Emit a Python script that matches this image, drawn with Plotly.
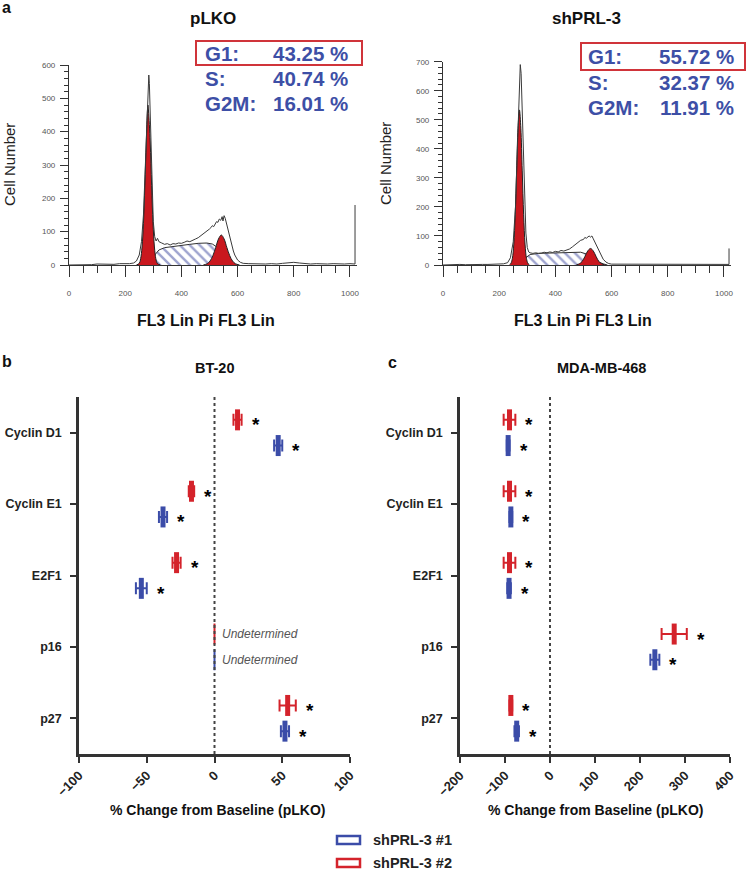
import plotly.graph_objects as go

W, H = 748, 873
FONT = "Liberation Sans, Arial, sans-serif"
RED = "#d4232b"
BLUE = "#3b4ca8"
TXTBLUE = "#3d4fa6"
G1RED = "#c9171e"

# ---------------- Panel a : cell-cycle histograms ----------------
# pLKO raw histogram (FL3 channel, cell count)
plko_raw_x = [0, 20, 40, 60, 80, 100, 120, 140, 160, 180, 200, 215, 230, 240, 250, 258, 265, 270, 275, 279,
              282, 284, 286, 288, 291, 295, 300, 305, 310, 315, 320, 330, 340, 350, 360, 370, 380, 390, 400,
              410, 420, 430, 440, 450, 460, 470, 480, 490, 500, 505, 510, 515, 520, 525, 530, 535, 540, 545,
              548, 552, 556, 560, 565, 570, 575, 580, 585, 590, 600, 610, 620, 640, 660, 680, 700, 720, 740,
              760, 780, 800, 820, 840, 860, 880, 900, 920, 940, 960, 980, 1000, 1010, 1018, 1018]
plko_raw_y = [0, 0, 1, 2, 1, 3, 2, 3, 2, 4, 3, 4, 6, 12, 30, 70, 150, 260, 400, 510,
              560, 570, 545, 480, 370, 230, 130, 85, 72, 80, 70, 66, 62, 64, 60, 64, 63, 66, 65,
              68, 72, 70, 75, 78, 82, 88, 95, 100, 108, 112, 118, 115, 125, 130, 128, 138, 134, 145,
              132, 148, 140, 125, 110, 92, 75, 58, 42, 30, 15, 8, 5, 4, 3, 4, 3, 4, 3,
              5, 6, 8, 6, 4, 3, 4, 3, 3, 4, 3, 3, 4, 3, 3, 180]
plko_g1_x = [240, 250, 255, 260, 265, 270, 275, 279, 281, 283, 289, 294, 299, 304, 309, 314, 325]
plko_g1_y = [0, 5, 19, 54, 125, 239, 369, 462, 480, 462, 369, 239, 125, 54, 19, 5, 0]
plko_s_x = [260, 280, 300, 320, 340, 370, 400, 430, 460, 490, 510, 530, 550, 565, 580, 595]
plko_s_y = [0, 8, 25, 45, 52, 56, 59, 62, 65, 66, 63, 52, 35, 20, 8, 0]
plko_g2_x = [478, 492, 502, 512, 522, 532, 542, 552, 562, 572, 582, 592, 607]
plko_g2_y = [0, 4, 12, 28, 52, 78, 90, 78, 52, 28, 12, 4, 0]
plko_peaks = [282, 552]

# shPRL-3 raw histogram
sh_raw_x = [0, 20, 40, 60, 80, 100, 120, 140, 160, 180, 200, 215, 230, 240, 250, 258, 264, 268, 272, 275,
            278, 281, 285, 290, 295, 300, 305, 310, 320, 330, 340, 350, 360, 370, 380, 390, 400, 410, 420,
            430, 440, 450, 460, 470, 480, 490, 500, 505, 510, 515, 520, 525, 530, 535, 540, 550, 560, 570,
            580, 590, 600, 620, 650, 700, 750, 780, 800, 850, 900, 950, 1000, 1010, 1018, 1018]
sh_raw_y = [0, 1, 1, 2, 1, 2, 3, 2, 2, 3, 3, 4, 8, 25, 80, 200, 380, 520, 640, 690,
            660, 560, 400, 220, 110, 60, 45, 42, 40, 42, 40, 41, 44, 42, 45, 43, 47, 45, 50,
            48, 52, 55, 62, 70, 78, 85, 88, 95, 92, 98, 100, 96, 100, 90, 80, 58, 38, 20,
            10, 5, 3, 3, 2, 3, 3, 4, 3, 2, 3, 2, 3, 2, 2, 57]
sh_g1_x = [237, 242, 247, 252, 257, 262, 267, 272, 277, 282, 287, 292, 297, 302, 307]
sh_g1_y = [1, 6, 23, 72, 173, 324, 471, 534, 471, 324, 173, 72, 23, 6, 1]
sh_s_x = [250, 270, 290, 310, 340, 380, 420, 460, 490, 510, 530, 550, 570, 585]
sh_s_y = [0, 8, 22, 36, 40, 41, 43, 45, 44, 38, 25, 12, 4, 0]
sh_g2_x = [475, 485, 495, 505, 515, 525, 535, 545, 555, 565, 575]
sh_g2_y = [1, 4, 12, 29, 48, 57, 48, 29, 12, 4, 1]
sh_peaks = [276]

phase_labels = ["G1:", "S:", "G2M:"]
plko_pct = ["43.25 %", "40.74 %", "16.01 %"]
sh_pct = ["55.72 %", "32.37 %", "11.91 %"]

# ---------------- Panels b, c : % change from baseline ----------------
genes = ["Cyclin D1", "Cyclin E1", "E2F1", "p16", "p27"]
# BT-20  (None = undetermined)
bt20_sh1 = [47, -38, -54, None, 52]
bt20_sh1_err = [3, 3, 4, 0, 3]
bt20_sh2 = [17, -17, -28, None, 54]
bt20_sh2_err = [3, 2, 3, 0, 6]
# MDA-MB-468
mda_sh1 = [-93, -87, -91, 233, -74]
mda_sh1_err = [3, 3, 4, 10, 5]
mda_sh2 = [-90, -90, -90, 276, -87]
mda_sh2_err = [13, 13, 13, 28, 3]

bt20_ticks = [-100, -50, 0, 50, 100]
mda_ticks = [-200, -100, 0, 100, 200, 300, 400]
series_names = ["shPRL-3 #1", "shPRL-3 #2"]


def P(xp, yp):
    return xp / W, 1 - yp / H


fig = go.Figure()

# --- histograms ---
def add_hist(xa, ya, rx, ry, g1x, g1y, sx, sy, g2x, g2y, peaks, tri_y):
    fig.add_trace(go.Scatter(x=sx, y=sy, xaxis=xa, yaxis=ya, mode="lines", fill="tozeroy",
                             fillcolor="white",
                             fillpattern=dict(shape="\\", fgcolor="#3f4aa0", bgcolor="white",
                                              size=7, solidity=0.35),
                             line=dict(color="#333", width=1), hoverinfo="skip"))
    for gx, gy in ((g1x, g1y), (g2x, g2y)):
        fig.add_trace(go.Scatter(x=gx, y=gy, xaxis=xa, yaxis=ya, mode="lines", fill="tozeroy",
                                 fillcolor=G1RED, line=dict(color="#222", width=1, shape="spline"),
                                 hoverinfo="skip"))
    fig.add_trace(go.Scatter(x=rx, y=ry, xaxis=xa, yaxis=ya, mode="lines",
                             line=dict(color="#3a3a3a", width=1), hoverinfo="skip"))
    fig.add_trace(go.Scatter(x=peaks, y=[tri_y] * len(peaks), xaxis=xa, yaxis=ya, mode="markers",
                             marker=dict(symbol="triangle-up", size=9, color="black"),
                             cliponaxis=False, hoverinfo="skip"))


add_hist("x", "y", plko_raw_x, plko_raw_y, plko_g1_x, plko_g1_y, plko_s_x, plko_s_y,
         plko_g2_x, plko_g2_y, plko_peaks, -19)
add_hist("x2", "y2", sh_raw_x, sh_raw_y, sh_g1_x, sh_g1_y, sh_s_x, sh_s_y,
         sh_g2_x, sh_g2_y, sh_peaks, -23)

# --- dot/error plots ---
OFF = 0.18
annotations = []


def add_effects(xa, ya, vals1, err1, vals2, err2):
    for vals, errs, col, off in ((vals2, err2, RED, -OFF), (vals1, err1, BLUE, OFF)):
        ys = [i + off for i in range(len(genes))]
        fig.add_trace(go.Scatter(
            x=vals, y=ys, xaxis=xa, yaxis=ya, mode="markers",
            marker=dict(symbol="line-ns", size=15, line=dict(width=5, color=col)),
            error_x=dict(type="data", array=errs, visible=True, thickness=2, width=6, color=col),
            hoverinfo="skip"))
        und_y = [y for v, y in zip(vals, ys) if v is None]
        if und_y:
            fig.add_trace(go.Scatter(
                x=[0] * len(und_y), y=und_y, xaxis=xa, yaxis=ya, mode="markers",
                marker=dict(symbol="line-ns", size=15, line=dict(width=2, color=col)),
                hoverinfo="skip"))
        for v, e, y in zip(vals, errs, ys):
            if v is None:
                annotations.append(dict(x=0, y=y, xref=xa, yref=ya, text="Undetermined",
                                        showarrow=False, xanchor="left", xshift=5,
                                        font=dict(family=FONT, size=12, color="#555", style="italic")))
            else:
                annotations.append(dict(x=v + e, y=y, xref=xa, yref=ya, text="*", showarrow=False,
                                        xanchor="center", xshift=14, yshift=-5,
                                        font=dict(family=FONT, size=19, color="black", weight="bold")))


add_effects("x3", "y3", bt20_sh1, bt20_sh1_err, bt20_sh2, bt20_sh2_err)
add_effects("x4", "y4", mda_sh1, mda_sh1_err, mda_sh2, mda_sh2_err)

# ---------------- axes ----------------
hist_x = dict(range=[0, 1025], showline=True, linecolor="#333", linewidth=1.2, ticks="outside",
              ticklen=11, tickwidth=1.2, tickcolor="#333", tickvals=[0, 200, 400, 600, 800, 1000],
              minor=dict(dtick=50, tick0=0, ticks="outside", ticklen=7, tickwidth=1.2, tickcolor="#333"),
              tickfont=dict(family=FONT, size=8, color="#555"), ticklabelstandoff=9,
              showgrid=False, zeroline=False, fixedrange=True, automargin=False)
hist_y = dict(showline=True, linecolor="#333", linewidth=1.2, ticks="outside", ticklen=8,
              tickwidth=1.2, tickcolor="#333", dtick=100,
              minor=dict(dtick=20, ticks="outside", ticklen=4, tickwidth=1, tickcolor="#333"),
              tickfont=dict(family=FONT, size=8, color="#555"), ticklabelstandoff=3,
              showgrid=False, zeroline=False, fixedrange=True, automargin=False)

eff_x = dict(showline=True, linecolor="#333", linewidth=2.5, ticks="outside", ticklen=6, tickwidth=2,
             tickcolor="#333", tickangle=-45,
             tickfont=dict(family=FONT, size=13, color="#222", weight="bold"),
             showgrid=False, zeroline=False, fixedrange=True, automargin=False)
eff_y = dict(range=[4.5, -0.5], tickvals=list(range(len(genes))), ticktext=genes, showline=True,
             linecolor="#333", linewidth=2.5, ticks="outside", ticklen=6, tickwidth=2, tickcolor="#333",
             tickfont=dict(family=FONT, size=12.5, color="#222", weight="bold"), ticklabelstandoff=6,
             showgrid=False, zeroline=False, fixedrange=True, automargin=False)

ya_dom = [1 - 265 / H, 1 - 65 / H]
yb_dom = [1 - 265 / H, 1 - 61.7 / H]
ec_dom = [1 - 754 / H, 1 - 397 / H]

fig.update_layout(
    width=W, height=H, margin=dict(l=0, r=0, t=0, b=0, autoexpand=False),
    paper_bgcolor="white", plot_bgcolor="white", showlegend=False,
    font=dict(family=FONT, color="#222"),
    xaxis=dict(hist_x, domain=[69 / W, 357 / W], anchor="y"),
    yaxis=dict(hist_y, domain=ya_dom, range=[0, 600], anchor="x"),
    xaxis2=dict(hist_x, domain=[443 / W, 731 / W], anchor="y2"),
    yaxis2=dict(hist_y, domain=yb_dom, range=[0, 700], anchor="x2"),
    xaxis3=dict(eff_x, domain=[79 / W, 350 / W], range=[-100, 100], tickvals=bt20_ticks, anchor="y3"),
    yaxis3=dict(eff_y, domain=ec_dom, anchor="x3"),
    xaxis4=dict(eff_x, domain=[460 / W, 730 / W], range=[-200, 400], tickvals=mda_ticks, anchor="y4"),
    yaxis4=dict(eff_y, domain=ec_dom, anchor="x4"),
)

shapes = []
# dotted zero lines
for xa, ya in (("x3", "y3"), ("x4", "y4")):
    shapes.append(dict(type="line", xref=xa, yref=ya + " domain", x0=0, x1=0, y0=0, y1=1,
                       line=dict(color="#444", width=2, dash="dot")))


def text(xp, yp, s, size, bold=True, color="#111", anchor="center", angle=0):
    x, y = P(xp, yp)
    f = dict(family=FONT, size=size, color=color)
    if bold:
        f["weight"] = "bold"
    annotations.append(dict(x=x, y=y, xref="paper", yref="paper", text=s, showarrow=False,
                            xanchor=anchor, yanchor="middle", textangle=angle, font=f))


# panel letters & titles
text(6, 8, "a", 16)
text(7, 361, "b", 16)
text(392, 362, "c", 16)
text(213, 18, "pLKO", 17)
text(586, 18, "shPRL-3", 17)
text(215, 368, "BT-20", 14.5)
text(601, 368, "MDA-MB-468", 14.5)

# histogram axis titles
text(9, 165, "Cell Number", 15, bold=False, color="#222", angle=-90)
text(385, 163, "Cell Number", 15, bold=False, color="#222", angle=-90)
text(206, 320, "FL3 Lin Pi FL3 Lin", 16)
text(583, 320, "FL3 Lin Pi FL3 Lin", 16)

# effect-plot axis titles
text(217, 810, "% Change from Baseline (pLKO)", 14)
text(595, 810, "% Change from Baseline (pLKO)", 14)

# phase percentages
for (lx, rx, y0, dy, pct) in ((203, 350, 53, 25, plko_pct), (586, 736, 57, 25, sh_pct)):
    for k, (lab, val) in enumerate(zip(phase_labels, pct)):
        text(lx, y0 + k * dy, lab, 20.5, color=TXTBLUE, anchor="left")
        text(rx, y0 + k * dy, val, 20.5, color=TXTBLUE, anchor="right")

for (x0, x1, y0, y1) in ((196, 362, 41, 65), (581, 745, 43, 70)):
    shapes.append(dict(type="rect", xref="paper", yref="paper", x0=x0 / W, x1=x1 / W,
                       y0=1 - y1 / H, y1=1 - y0 / H, line=dict(color="#d0343a", width=2)))

# legend
for (name, col, yc) in ((series_names[0], BLUE, 840), (series_names[1], RED, 863)):
    shapes.append(dict(type="rect", xref="paper", yref="paper", x0=337 / W, x1=360 / W,
                       y0=1 - (yc + 4) / H, y1=1 - (yc - 4) / H, line=dict(color=col, width=2.5),
                       fillcolor="white"))
    text(371, yc, name, 14.5, color="#222", anchor="left")

fig.update_layout(shapes=shapes, annotations=annotations)
fig.write_html("out.html", config={"displayModeBar": False},
               post_script="document.body.style.margin='0';document.body.style.padding='0';"
                           "document.body.style.overflow='hidden';")
